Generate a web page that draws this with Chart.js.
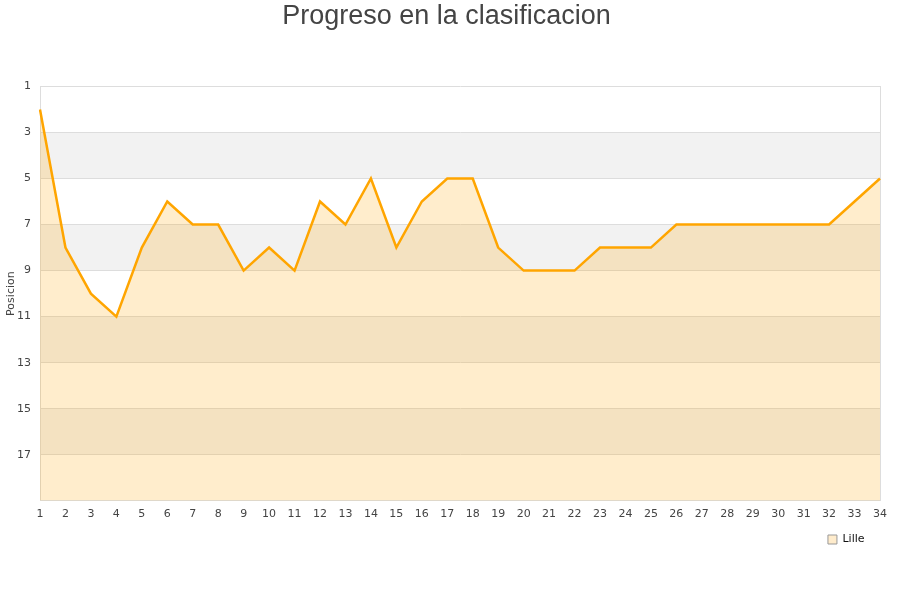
<!DOCTYPE html>
<html>
<head>
<meta charset="utf-8">
<script src="https://cdn.jsdelivr.net/npm/chart.js@4/dist/chart.umd.min.js"></script>
<style>
html,body{margin:0;padding:0;background:#fff;}
#wrap{width:900px;height:600px;position:relative;}
</style>
</head>
<body>
<div id="wrap"><canvas id="c" width="900" height="600"></canvas></div>
<script>
const jornadas = ["1","2","3","4","5","6","7","8","9","10","11","12","13","14","15","16","17","18","19","20","21","22","23","24","25","26","27","28","29","30","31","32","33","34"];
const lille = [2,8,10,11,8,6,7,7,9,8,9,6,7,5,8,6,5,5,8,9,9,9,8,8,8,7,7,7,7,7,7,7,6,5];
const bandEdges = [1,3,5,7,9,11,13,15,17,19];

const bandsPlugin = {
  id: 'bands',
  beforeDraw(chart) {
    const {ctx, chartArea, scales} = chart;
    const y = scales.y;
    ctx.save();
    for (let i = 0; i < bandEdges.length - 1; i++) {
      ctx.fillStyle = (i % 2 === 1) ? '#f2f2f2' : '#ffffff';
      const y1 = y.getPixelForValue(bandEdges[i]);
      const y2 = y.getPixelForValue(bandEdges[i+1]);
      ctx.fillRect(chartArea.left, Math.min(y1,y2), chartArea.right - chartArea.left, Math.abs(y2-y1));
    }
    ctx.restore();
  }
};

new Chart(document.getElementById('c'), {
  type: 'line',
  data: {
    labels: jornadas,
    datasets: [{
      label: 'Lille',
      data: lille,
      borderColor: '#FFA500',
      backgroundColor: 'rgba(255,165,0,0.2)',
      borderWidth: 2.5,
      pointRadius: 0,
      fill: 'start',
      tension: 0
    }]
  },
  plugins: [bandsPlugin],
  options: {
    responsive: false,
    animation: false,
    layout: { padding: { left: 5, right: 12, top: 0, bottom: 45 } },
    plugins: {
      title: {
        display: true,
        text: 'Progreso en la clasificacion',
        color: '#444',
        font: { family: 'Liberation Sans', size: 27, weight: 'normal' },
        padding: { top: 0, bottom: 54 }
      },
      legend: {
        position: 'bottom',
        align: 'end',
        labels: {
          boxWidth: 9, boxHeight: 9,
          color: '#111',
          font: { family: 'DejaVu Sans', size: 11 },
          padding: 6,
          generateLabels: (chart) => chart.data.datasets.map((ds, i) => ({
            text: ds.label + '     ',
            fillStyle: '#ffeccc',
            strokeStyle: '#999',
            lineWidth: 1,
            hidden: false,
            datasetIndex: i,
            fontColor: '#111'
          }))
        }
      },
      tooltip: { enabled: false }
    },
    scales: {
      x: {
        offset: false,
        grid: { display: true, drawOnChartArea: false, drawTicks: false, color: '#ddd' },
        border: { color: '#ddd' },
        ticks: { color: '#444', font: { family: 'DejaVu Sans', size: 11 }, maxRotation: 0, autoSkip: false, padding: 7 }
      },
      y: {
        reverse: true,
        min: 1, max: 19,
        afterFit: (scale) => { scale.width = 35; },
        grid: { color: '#ddd', drawTicks: false },
        border: { color: '#ddd' },
        ticks: {
          stepSize: 2,
          color: '#444',
          font: { family: 'DejaVu Sans', size: 11 },
          padding: 9,
          callback: v => v === 19 ? '' : v
        },
        title: { display: true, text: 'Posicion', color: '#444', font: { family: 'DejaVu Sans', size: 11 }, padding: 0 }
      },
      y2: {
        position: 'right',
        display: true,
        grid: { display: false },
        border: { color: '#ddd' },
        ticks: { display: false }
      }
    }
  }
});
</script>
</body>
</html>
